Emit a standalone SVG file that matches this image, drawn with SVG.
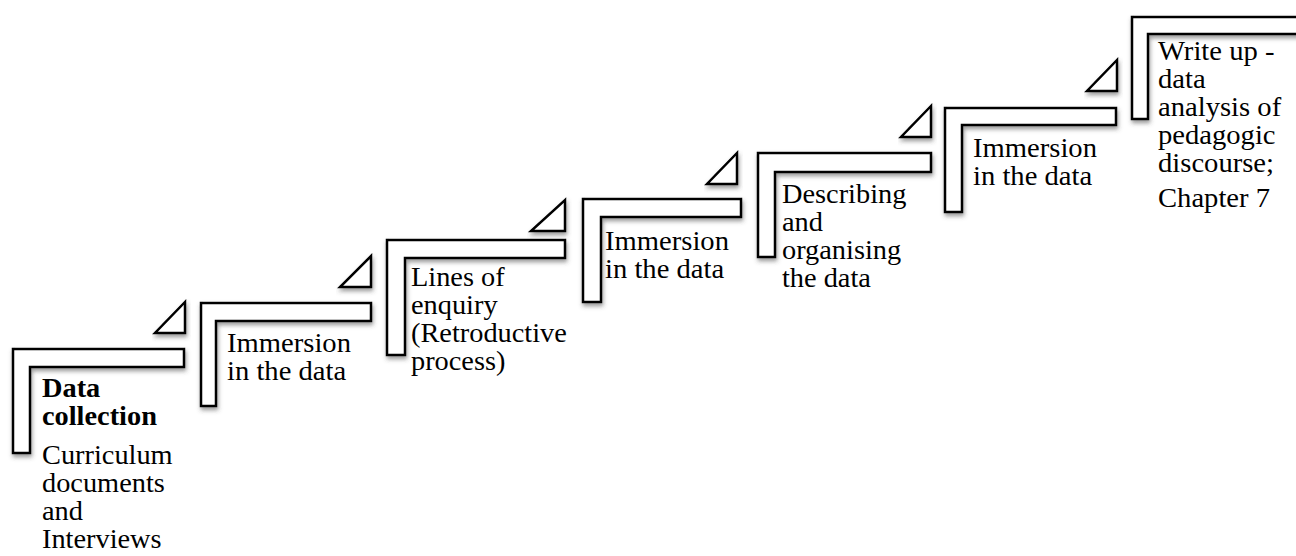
<svg xmlns="http://www.w3.org/2000/svg" width="1296" height="556" viewBox="0 0 1296 556">
  <defs>
    <filter id="shadow" x="-10%" y="-10%" width="130%" height="140%">
      <feDropShadow dx="1" dy="3" stdDeviation="2" flood-color="#4a4a4a" flood-opacity="0.55"/>
    </filter>
    <style>
      .step { fill: #ffffff; stroke: #000000; stroke-width: 2.5; stroke-linejoin: miter; filter: url(#shadow); }
      .tri { fill: #ffffff; stroke: #000000; stroke-width: 2.5; stroke-linejoin: miter; filter: url(#shadow); }
      .label { font-family: "Liberation Serif", "Times New Roman", serif; font-size: 27px; fill: #000000; }
      .bold { font-weight: bold; }
    </style>
  </defs>
  <rect width="1296" height="556" fill="#ffffff"/>

  <!-- small corner triangles between the stairs -->
  <g id="connectors">
    <path class="tri" d="M155,333 L185,333 L185,302 Z"/>
    <path class="tri" d="M340,287 L371,287 L371,256 Z"/>
    <path class="tri" d="M531,231 L565,231 L565,200 Z"/>
    <path class="tri" d="M707,184 L737,184 L737,153 Z"/>
    <path class="tri" d="M901,137 L931,137 L931,106 Z"/>
    <path class="tri" d="M1087,91 L1117,91 L1117,60 Z"/>
  </g>

  <g id="step1">
    <path class="step" d="M13,349 H184 V367 H30 V453 H13 Z"/>
    <g transform="translate(42 0) scale(1.05 1)">
      <text class="label bold" x="0" y="397">Data</text>
      <text class="label bold" x="0" y="425">collection</text>
      <text class="label" x="0" y="464">Curriculum</text>
      <text class="label" x="0" y="492">documents</text>
      <text class="label" x="0" y="520">and</text>
      <text class="label" x="0" y="548">Interviews</text>
    </g>
  </g>

  <g id="step2">
    <path class="step" d="M201,303 H371 V321 H216 V406 H201 Z"/>
    <g transform="translate(227 0) scale(1.06 1)">
      <text class="label" x="0" y="352">Immersion</text>
      <text class="label" x="0" y="380">in the data</text>
    </g>
  </g>

  <g id="step3">
    <path class="step" d="M387,240 H565 V258 H405 V355 H387 Z"/>
    <g transform="translate(411 0) scale(1.05 1)">
      <text class="label" x="0" y="286">Lines of</text>
      <text class="label" x="0" y="314">enquiry</text>
      <text class="label" x="0" y="342">(Retroductive</text>
      <text class="label" x="0" y="370">process)</text>
    </g>
  </g>

  <g id="step4">
    <path class="step" d="M583,199 H741 V217 H601 V302 H583 Z"/>
    <g transform="translate(605 0) scale(1.06 1)">
      <text class="label" x="0" y="250">Immersion</text>
      <text class="label" x="0" y="278">in the data</text>
    </g>
  </g>

  <g id="step5">
    <path class="step" d="M758,153 H931 V172 H775 V257 H758 Z"/>
    <g transform="translate(782 0) scale(1.05 1)">
      <text class="label" x="0" y="203">Describing</text>
      <text class="label" x="0" y="231">and</text>
      <text class="label" x="0" y="259">organising</text>
      <text class="label" x="0" y="287">the data</text>
    </g>
  </g>

  <g id="step6">
    <path class="step" d="M945,108 H1116 V125 H962 V212 H945 Z"/>
    <g transform="translate(973 0) scale(1.06 1)">
      <text class="label" x="0" y="157">Immersion</text>
      <text class="label" x="0" y="185">in the data</text>
    </g>
  </g>

  <g id="step7">
    <path class="step" d="M1132,17 H1310 V34 H1148 V119 H1132 Z"/>
    <g transform="translate(1158 0) scale(1.06 1)">
      <text class="label" x="0" y="60">Write up -</text>
      <text class="label" x="0" y="88">data</text>
      <text class="label" x="0" y="116">analysis of</text>
      <text class="label" x="0" y="144">pedagogic</text>
      <text class="label" x="0" y="172">discourse;</text>
      <text class="label" x="0" y="207">Chapter 7</text>
    </g>
  </g>
</svg>
